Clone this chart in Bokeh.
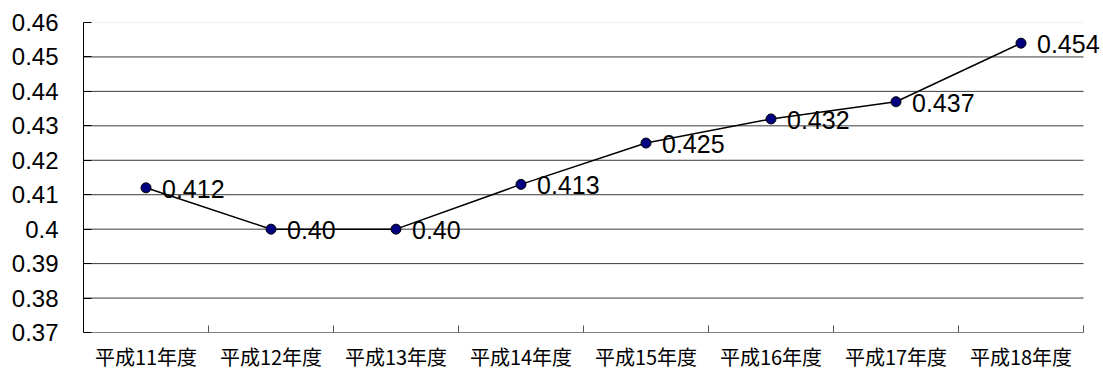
from bokeh.plotting import figure
from bokeh.models import Range1d, FixedTicker, ColumnDataSource
from bokeh.core.properties import value
from bokeh.embed import file_html
from bokeh.resources import INLINE

# Fiscal years (Heisei era) and the ratio for each year
categories = ["平成11年度", "平成12年度", "平成13年度", "平成14年度",
              "平成15年度", "平成16年度", "平成17年度", "平成18年度"]
ratios = [0.412, 0.400, 0.400, 0.413, 0.425, 0.432, 0.437, 0.454]
ratio_labels = ["0.412", "0.40", "0.40", "0.413", "0.425", "0.432", "0.437", "0.454"]

y_ticks = [0.37, 0.38, 0.39, 0.40, 0.41, 0.42, 0.43, 0.44, 0.45, 0.46]
y_tick_labels = ["0.37", "0.38", "0.39", "0.4", "0.41", "0.42", "0.43", "0.44", "0.45", "0.46"]

# Canvas geometry (pixels)
W, H = 1103, 373
LEFT, TOP = 83, 22            # frame starts here
PLOT_W, PLOT_H = 1000, 310    # area covered by the categories / value range
n = len(categories)

y_lo, y_hi = y_ticks[0], y_ticks[-1]
px_per_y = PLOT_H / (y_hi - y_lo)
px_per_x = PLOT_W / n
x_start, x_end = -0.5, n - 0.5
# the frame reaches the right and bottom edges so labels there are not clipped
x_range = Range1d(x_start, x_end + (W - LEFT - PLOT_W) / px_per_x)
y_range = Range1d(y_lo - (H - TOP - PLOT_H) / px_per_y, y_hi)

xs = list(range(n))
source = ColumnDataSource(dict(x=xs, y=ratios, label=ratio_labels))
cat_source = ColumnDataSource(dict(x=xs, y=[y_lo] * n, label=categories))

p = figure(width=W, height=H, output_backend="svg", toolbar_location=None,
           x_range=x_range, y_range=y_range,
           min_border_left=LEFT, min_border_right=0,
           min_border_top=TOP, min_border_bottom=0)
p.outline_line_color = None
p.background_fill_color = "white"
p.border_fill_color = "white"
p.xgrid.visible = False
p.ygrid.visible = False
p.xaxis.visible = False

# Horizontal gridlines across the category area
inner = y_ticks[1:-1]
p.segment(x0=[x_start] * len(inner), x1=[x_end] * len(inner), y0=inner, y1=inner,
          line_color="#3a3a3a", line_width=1)
p.segment(x0=[x_start], x1=[x_end], y0=[y_hi], y1=[y_hi],
          line_color="#e4e4e4", line_width=1)

# Category axis line with ticks at the category boundaries
p.segment(x0=[x_start], x1=[x_end], y0=[y_lo], y1=[y_lo],
          line_color="#808080", line_width=1)
bounds = [i - 0.5 for i in range(n + 1)]
tick_len = 7 / px_per_y
p.segment(x0=bounds, x1=bounds, y0=[y_lo] * len(bounds), y1=[y_lo + tick_len] * len(bounds),
          line_color="#555555", line_width=1)

# Category names under the axis
p.text("x", "y", text="label", source=cat_source, y_offset=24,
       text_align="center", text_baseline="middle",
       text_font=value("Noto Sans CJK JP"), text_font_size="20px", text_color="black")

# Value axis
ya = p.yaxis[0]
ya.ticker = FixedTicker(ticks=y_ticks)
ya.bounds = (y_lo, y_hi)
ya.major_label_overrides = {t: s for t, s in zip(y_ticks, y_tick_labels)}
ya.axis_line_color = "black"
ya.axis_line_width = 1
ya.major_tick_line_color = "black"
ya.major_tick_in = 8
ya.major_tick_out = 0
ya.minor_tick_line_color = None
ya.major_label_standoff = 25
ya.major_label_text_font = "Liberation Sans"
ya.major_label_text_font_size = "24px"
ya.major_label_text_color = "black"

# Line with markers
p.line("x", "y", source=source, line_color="black", line_width=1.5)
p.scatter("x", "y", source=source, size=10, fill_color="#000080",
          line_color="black", line_width=1)

# Value labels to the right of each point
p.text("x", "y", text="label", source=source, x_offset=16, y_offset=1,
       text_font=value("Liberation Sans"), text_font_size="25px",
       text_baseline="middle", text_align="left", text_color="black")

open("out.html", "w").write(file_html(p, INLINE))
